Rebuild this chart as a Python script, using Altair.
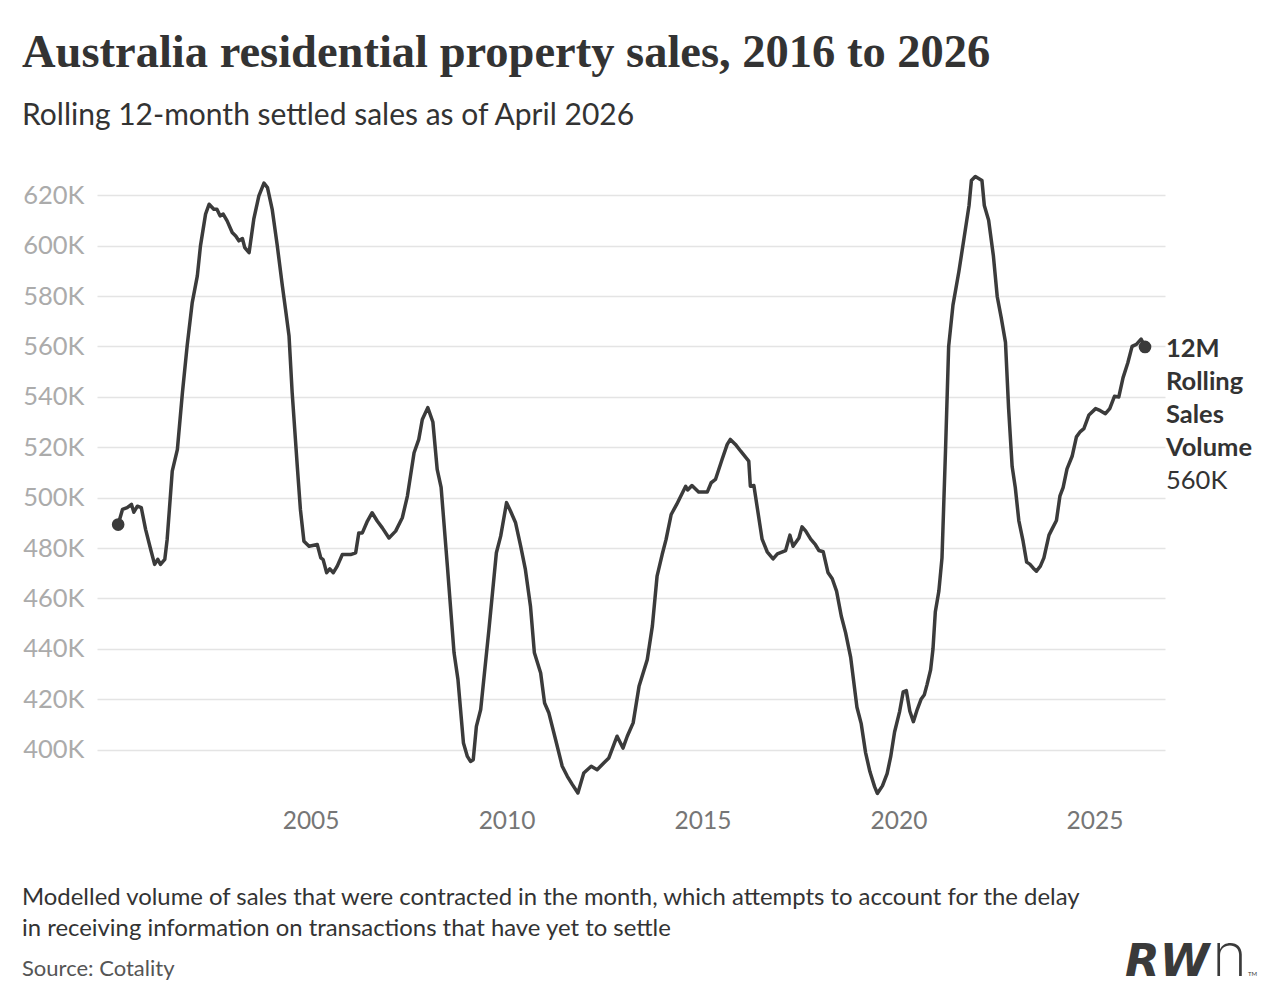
import altair as alt
import pandas as pd

# ---- data (decimal year, thousands of sales) ----
YEARS = [
    2000.09, 2000.20, 2000.32, 2000.43, 2000.49, 2000.58, 2000.68, 2000.79, 2000.92, 2001.02,
    2001.10, 2001.17, 2001.28, 2001.34, 2001.47, 2001.60, 2001.73, 2001.85, 2001.98, 2002.11,
    2002.19, 2002.32, 2002.41, 2002.53, 2002.61, 2002.69, 2002.77, 2002.87, 2003.00, 2003.09,
    2003.17, 2003.26, 2003.32, 2003.43, 2003.55, 2003.68, 2003.81, 2003.90, 2004.02, 2004.15,
    2004.28, 2004.36, 2004.45, 2004.53, 2004.66, 2004.74, 2004.83, 2004.96, 2005.17, 2005.26,
    2005.32, 2005.41, 2005.49, 2005.58, 2005.68, 2005.81, 2006.02, 2006.15, 2006.23, 2006.32,
    2006.45, 2006.57, 2006.70, 2006.83, 2007.00, 2007.17, 2007.34, 2007.47, 2007.64, 2007.76,
    2007.85, 2007.99, 2008.12, 2008.23, 2008.33, 2008.49, 2008.66, 2008.76, 2008.90, 2009.00,
    2009.08, 2009.15, 2009.23, 2009.34, 2009.55, 2009.74, 2009.85, 2010.00, 2010.10, 2010.23,
    2010.36, 2010.48, 2010.61, 2010.71, 2010.87, 2010.97, 2011.08, 2011.25, 2011.42, 2011.55,
    2011.68, 2011.82, 2011.97, 2012.16, 2012.31, 2012.48, 2012.61, 2012.69, 2012.82, 2012.97,
    2013.08, 2013.23, 2013.38, 2013.59, 2013.72, 2013.84, 2013.97, 2014.07, 2014.20, 2014.34,
    2014.57, 2014.62, 2014.73, 2014.90, 2015.12, 2015.22, 2015.33, 2015.50, 2015.63, 2015.71,
    2015.84, 2015.97, 2016.18, 2016.22, 2016.31, 2016.52, 2016.65, 2016.80, 2016.91, 2017.12,
    2017.23, 2017.31, 2017.46, 2017.54, 2017.63, 2017.76, 2017.88, 2017.97, 2018.08, 2018.20,
    2018.31, 2018.42, 2018.54, 2018.65, 2018.78, 2018.94, 2019.05, 2019.16, 2019.27, 2019.39,
    2019.46, 2019.59, 2019.71, 2019.80, 2019.90, 2020.03, 2020.12, 2020.20, 2020.29, 2020.38,
    2020.48, 2020.58, 2020.66, 2020.73, 2020.82, 2020.88, 2020.94, 2021.03, 2021.11, 2021.20,
    2021.28, 2021.39, 2021.54, 2021.67, 2021.80, 2021.86, 2021.96, 2022.13, 2022.19, 2022.30,
    2022.42, 2022.52, 2022.62, 2022.73, 2022.81, 2022.90, 2022.98, 2023.07, 2023.18, 2023.27,
    2023.35, 2023.44, 2023.52, 2023.62, 2023.71, 2023.84, 2023.92, 2024.03, 2024.12, 2024.20,
    2024.30, 2024.43, 2024.54, 2024.64, 2024.73, 2024.86, 2025.03, 2025.15, 2025.28, 2025.39,
    2025.51, 2025.62, 2025.73, 2025.85, 2025.96, 2026.07, 2026.19, 2026.29,
]
SALES_K = [
    489.3, 495.3, 496.0, 497.3, 494.2, 496.6, 496.0, 487.4, 479.4, 473.5,
    475.5, 473.5, 475.5, 483.4, 510.5, 519.0, 541.7, 560.2, 577.4, 588.0,
    599.9, 612.5, 616.4, 614.4, 614.4, 611.8, 612.5, 609.8, 605.2, 603.8,
    601.9, 602.8, 599.2, 597.2, 610.5, 619.7, 624.8, 623.0, 614.4, 599.9,
    584.0, 574.7, 564.1, 541.6, 512.5, 495.3, 482.7, 480.7, 481.4, 476.1,
    475.4, 470.2, 471.7, 470.2, 472.8, 477.4, 477.4, 478.1, 486.0, 486.0,
    490.7, 494.0, 490.7, 488.0, 484.0, 486.7, 492.0, 500.6, 517.8, 523.1,
    531.0, 535.7, 530.0, 511.2, 504.1, 472.8, 438.4, 427.8, 402.6, 397.3,
    395.3, 396.0, 409.2, 415.9, 447.6, 478.1, 484.7, 498.0, 494.7, 490.0,
    480.7, 471.5, 456.9, 438.4, 430.4, 418.5, 414.5, 404.0, 393.4, 389.4,
    386.1, 382.8, 390.7, 393.4, 392.0, 394.7, 396.7, 400.0, 405.3, 400.6,
    405.3, 410.6, 425.1, 435.7, 449.0, 468.8, 477.4, 483.4, 493.3, 497.3,
    504.5, 503.0, 504.8, 502.2, 502.2, 505.9, 507.2, 515.2, 521.1, 523.1,
    521.1, 518.5, 514.5, 504.5, 504.8, 483.5, 478.5, 475.7, 477.7, 479.0,
    485.1, 480.7, 484.0, 488.4, 486.8, 483.5, 481.3, 479.0, 478.5, 470.3,
    467.8, 462.9, 453.0, 446.4, 436.6, 416.8, 410.2, 398.8, 391.3, 385.3,
    382.6, 385.6, 390.5, 397.1, 407.0, 415.2, 422.9, 423.4, 415.2, 411.1,
    416.0, 420.1, 421.8, 425.9, 431.7, 439.9, 454.7, 462.9, 476.1, 518.8,
    560.0, 576.4, 589.6, 602.7, 615.9, 625.8, 627.4, 625.8, 615.9, 610.1,
    596.1, 579.7, 571.5, 561.6, 535.3, 512.3, 504.0, 490.9, 482.6, 474.4,
    473.6, 472.0, 470.8, 472.8, 476.1, 485.1, 487.6, 490.9, 500.7, 504.0,
    511.4, 516.4, 524.1, 526.2, 527.4, 532.8, 535.3, 534.5, 533.3, 535.3,
    540.2, 539.9, 547.6, 553.4, 560.0, 560.8, 562.9, 559.8,
]

TITLE = "Australia residential property sales, 2016 to 2026"
SUBTITLE = "Rolling 12-month settled sales as of April 2026"
NOTE_1 = "Modelled volume of sales that were contracted in the month, which attempts to account for the delay"
NOTE_2 = "in receiving information on transactions that have yet to settle"
SOURCE = "Source: Cotality"
LABEL_BOLD = ["12M", "Rolling", "Sales", "Volume"]
LABEL_VALUE = "560K"
X_TICKS = [2005, 2010, 2015, 2020, 2025]
Y_TICKS = [400000, 420000, 440000, 460000, 480000, 500000, 520000, 540000, 560000, 580000, 600000, 620000]

df = pd.DataFrame({"year": YEARS, "sales": [v * 1000 for v in SALES_K]})
ends = df.iloc[[0, -1]]
last = df.iloc[[-1]]

W, H = 1068, 630
INK = "#3b3b3b"
TEXT = "#333333"

x_enc = alt.X(
    "year:Q",
    scale=alt.Scale(domain=[1999.55, 2026.8], nice=False, zero=False),
    axis=alt.Axis(values=X_TICKS, format="d", grid=False, domain=False, ticks=False,
                  labelFont="Lato", labelFontSize=24.5, labelColor="#767676",
                  labelPadding=9, title=None),
)
y_enc = alt.Y(
    "sales:Q",
    scale=alt.Scale(domain=[380000, 630000], nice=False, zero=False),
    axis=alt.Axis(values=Y_TICKS, labelExpr="datum.value / 1000 + 'K'", grid=True,
                  gridColor="#e4e4e4", gridWidth=1.6, domain=False, ticks=False,
                  labelFont="Lato", labelFontSize=25.5, labelColor="#ababab",
                  labelPadding=13, title=None),
)

base = alt.Chart(df)
line = base.mark_line(color=INK, strokeWidth=3.5, strokeJoin="round").encode(x=x_enc, y=y_enc)
dots = alt.Chart(ends).mark_point(filled=True, color=INK, size=160, opacity=1).encode(x="year:Q", y="sales:Q")

lab_bold = alt.Chart(last).mark_text(
    text=LABEL_BOLD, align="left", baseline="top", dx=21, dy=-10, font="Lato",
    fontSize=25.5, fontWeight="bold", lineHeight=33, color=TEXT,
).encode(x="year:Q", y="sales:Q")
lab_val = alt.Chart(last).mark_text(
    text=LABEL_VALUE, align="left", baseline="top", dx=21, dy=-10 + 4 * 33, font="Lato",
    fontSize=25.5, fontWeight="normal", color=TEXT,
).encode(x="year:Q", y="sales:Q")

one = pd.DataFrame({"k": [0]})


def txt(s, x, y, **kw):
    return alt.Chart(one).mark_text(text=s, align="left", baseline="alphabetic", **kw).encode(
        x=alt.value(x), y=alt.value(y)
    )


title = txt(TITLE, -75, -103, font="Liberation Serif", fontSize=46.5, fontWeight="bold", color=TEXT)
subtitle = txt(SUBTITLE, -75, -45, font="Lato", fontSize=30, color=TEXT)
note1 = txt(NOTE_1, -75, 735, font="Lato", fontSize=23.9, color=TEXT)
note2 = txt(NOTE_2, -75, 766, font="Lato", fontSize=23.9, color=TEXT)
source = txt(SOURCE, -75, 806, font="Lato", fontSize=22, color="#555555")
logo_rw = txt("RW", 1028, 806, font="DejaVu Sans", fontSize=45, fontWeight="bold", fontStyle="italic", color="#3a3a3a")
logo_n = txt("n", 1115, 806, font="Inter", fontSize=60, fontWeight=200, color="#3a3a3a")
logo_tm = txt("TM", 1151, 806, font="Lato", fontSize=6, color="#3a3a3a")

chart = alt.layer(
    line, dots, lab_bold, lab_val, title, subtitle, note1, note2, source, logo_rw, logo_n, logo_tm
).properties(
    width=W, height=H,
    padding={"left": 89, "top": 162, "right": 100, "bottom": 192},
    autosize=alt.AutoSizeParams(type="none"),
).configure(background="white").configure_view(strokeWidth=0, stroke="transparent")

chart.save("out.html", embed_options={"renderer": "svg", "actions": False})
